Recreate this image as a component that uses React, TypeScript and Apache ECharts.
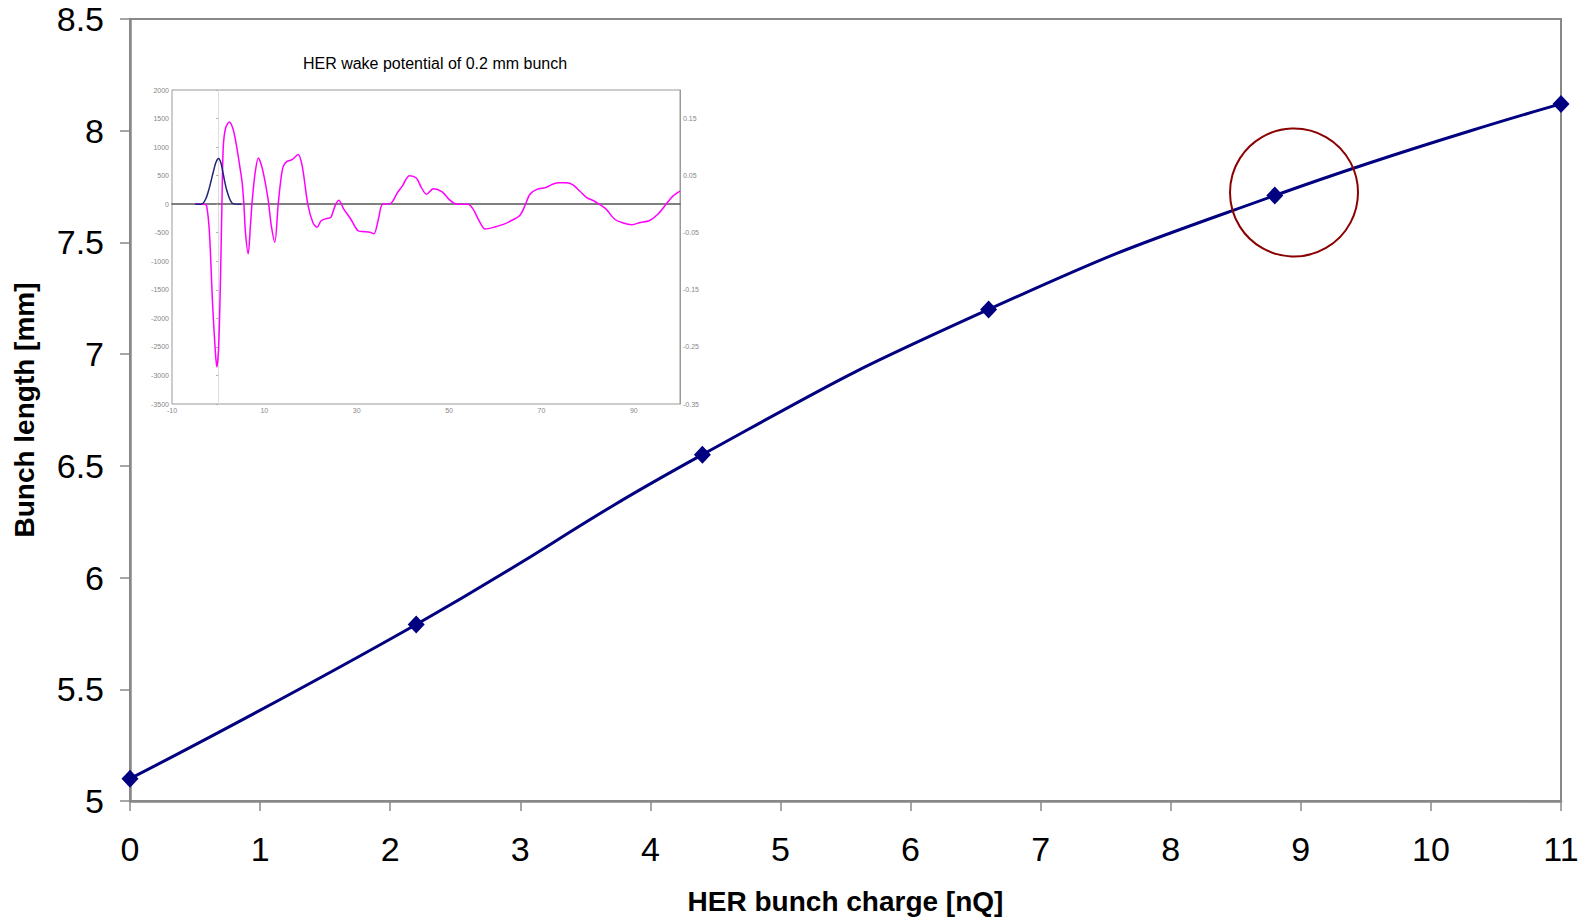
import React, { useEffect, useRef } from "react";
import * as echarts from "echarts";

// Main chart data
const chargeX = [0, 2.2, 4.4, 6.6, 8.8, 11];
const bunchLength = [5.1, 5.79, 6.55, 7.2, 7.71, 8.12];

// Inset: wake potential (left axis)
const wakeX = [
  -5, -3.0, -2.5, -1.9, -1.2, -0.6, -0.3, 0.1, 0.5, 0.8, 1.1, 1.6, 2.4, 3.2, 4.0, 4.7, 5.2, 5.6, 5.9, 6.5,
  7.0, 7.4, 8.0, 8.7, 9.6, 10.8, 11.5, 12.25, 13.0, 13.6, 14.1, 14.9, 16.0, 17.3, 18.2, 19.4, 20.5, 21.4,
  22.3, 23.5, 24.4, 25.3, 26.1, 27.2, 28.7, 30.2, 31.3, 32.8, 33.7, 34.7, 35.6, 37.3, 38.8, 39.9, 41.4,
  42.9, 44.0, 45.1, 46.6, 48.5, 50.0, 51.6, 54.1, 55.2, 56.7, 57.8, 59.7, 61.9, 63.4, 65.3, 66.4, 67.5,
  69.0, 70.9, 72.4, 73.9, 75.4, 76.9, 78.3, 79.8, 81.3, 82.5, 84.0, 85.8, 87.7, 89.6, 91.4, 93.3, 95.2,
  97.0, 98.5, 100,
];
const wakeV = [
  0, 0, -30, -490, -1770, -2600, -2850, -2500, -1300, -50, 1000, 1330, 1440, 1320, 1010, 650, 375, -50, -490, -870,
  -350, 90, 550, 810, 610, 90, -375, -665, 0, 450, 665, 750, 780, 870, 665, 0, -320, -405,
  -290, -250, -230, -30, 70, -87, -260, -460, -480, -490, -520, -260, 0, 10, 200, 320, 500,
  460, 290, 175, 270, 215, 85, 0, 0, -87, -320, -435, -405, -350, -290, -200, -30, 175,
  260, 290, 350, 375, 375, 335, 230, 115, 60, 0, -87, -260, -330, -360, -320, -290, -175,
  0, 145, 230,
];

// Inset: bunch profile (right axis)
const profileX = [-5, -3.5, -2.7, -2.0, -1.5, -1.1, -0.5, 0.1, 0.6, 1.05, 1.4, 1.8, 2.5, 3.2, 5];
const profileV = [0, 0.0005, 0.009, 0.026, 0.042, 0.055, 0.073, 0.08, 0.072, 0.055, 0.04, 0.026, 0.009, 0.001, 0];

const insetTitle = "HER wake potential of 0.2 mm bunch";
const xName = "HER bunch charge [nQ]";
const yName = "Bunch length [mm]";

const FONT = "'Liberation Sans', Arial, Helvetica, sans-serif";

export default function App() {
  const ref = useRef<HTMLDivElement>(null);
  useEffect(() => {
    if (!ref.current) return;
    const chart = echarts.init(ref.current, null, { renderer: "svg" });
    const zip = (xs: number[], ys: number[]) => xs.map((x, i) => [x, ys[i]]);
    chart.setOption({
      animation: false,
      backgroundColor: "#fff",
      textStyle: { fontFamily: FONT },
      grid: [
        { left: 130, right: 28, top: 19, bottom: 119, show: true, borderColor: "#888", borderWidth: 2, backgroundColor: "transparent" },
        { left: 172, top: 90, width: 508, height: 314, show: true, borderColor: "#999", borderWidth: 1, backgroundColor: "#fff" },
      ],
      xAxis: [
        {
          gridIndex: 0, type: "value", min: 0, max: 11, interval: 1,
          axisLine: { show: true, onZero: false, lineStyle: { color: "#888", width: 2.5 } },
          axisTick: { show: true, length: 10, lineStyle: { color: "#888", width: 1.5 } },
          axisLabel: { fontSize: 34, color: "#000", margin: 31, fontFamily: FONT },
          splitLine: { show: false },
          name: xName, nameLocation: "middle", nameGap: 86,
          nameTextStyle: { fontSize: 28, fontWeight: "bold", color: "#000", fontFamily: FONT },
        },
        {
          gridIndex: 1, type: "value", min: -10, max: 100, interval: 10,
          axisLine: { show: true, onZero: true, lineStyle: { color: "#555", width: 1.5 } },
          axisTick: { show: false },
          axisLabel: {
            fontSize: 7, color: "#888", margin: 3, fontFamily: FONT,
            formatter: (v: number) => ((Math.round(v) + 10) % 20 === 0 ? String(v) : ""),
          },
          splitLine: { show: false },
        },
      ],
      yAxis: [
        {
          gridIndex: 0, type: "value", min: 5, max: 8.5, interval: 0.5,
          axisLine: { show: true, onZero: false, lineStyle: { color: "#888", width: 2.5 } },
          axisTick: { show: true, length: 10, lineStyle: { color: "#888", width: 1.5 } },
          axisLabel: { fontSize: 34, color: "#000", margin: 26, fontFamily: FONT },
          splitLine: { show: false },
          name: yName, nameLocation: "middle", nameGap: 92,
          nameTextStyle: { fontSize: 28, fontWeight: "bold", color: "#000", fontFamily: FONT },
        },
        {
          gridIndex: 1, type: "value", min: -3500, max: 2000, interval: 500, position: "left",
          axisLine: { show: true, onZero: true, lineStyle: { color: "#ddd", width: 1 } },
          axisTick: { show: true, length: 2, lineStyle: { color: "#aaa" } },
          axisLabel: { fontSize: 7, color: "#888", margin: 3, fontFamily: FONT, formatter: (v: number) => String(v) },
          splitLine: { show: false },
        },
        {
          gridIndex: 1, type: "value", min: -0.35, max: 0.2, interval: 0.05, position: "right",
          axisLine: { show: true, onZero: false, lineStyle: { color: "#999", width: 1 } },
          axisTick: { show: false },
          axisLabel: {
            fontSize: 7, color: "#888", margin: 3, fontFamily: FONT,
            formatter: (v: number) => (Math.abs(Math.round(v * 100)) % 10 === 5 ? v.toFixed(2) : ""),
          },
          splitLine: { show: false },
        },
      ],
      graphic: [
        {
          type: "text", x: 435, y: 63, z: 20,
          style: { text: insetTitle, textAlign: "center", textVerticalAlign: "middle", fontSize: 16, fill: "#000", fontFamily: FONT },
        },
        {
          type: "circle", z: 20,
          shape: { cx: 1294, cy: 192.5, r: 64 },
          style: { fill: "none", stroke: "#8b0000", lineWidth: 2 },
        },
      ],
      series: [
        {
          type: "line", xAxisIndex: 0, yAxisIndex: 0,
          data: zip(chargeX, bunchLength),
          smooth: true, symbol: "diamond", symbolSize: [17, 18],
          lineStyle: { color: "#000080", width: 3 },
          itemStyle: { color: "#000080" },
          z: 5,
        },
        {
          type: "line", xAxisIndex: 1, yAxisIndex: 1,
          data: zip(wakeX, wakeV),
          smooth: 0.3, showSymbol: false, symbol: "none",
          lineStyle: { color: "#ff00ff", width: 1.5 },
        },
        {
          type: "line", xAxisIndex: 1, yAxisIndex: 2,
          data: zip(profileX, profileV),
          smooth: 0.3, showSymbol: false, symbol: "none",
          lineStyle: { color: "#22227a", width: 1.5 },
        },
      ],
    });
    return () => chart.dispose();
  }, []);
  return <div ref={ref} style={{ position: "absolute", left: 0, top: 0, width: 1589, height: 920 }} />;
}
